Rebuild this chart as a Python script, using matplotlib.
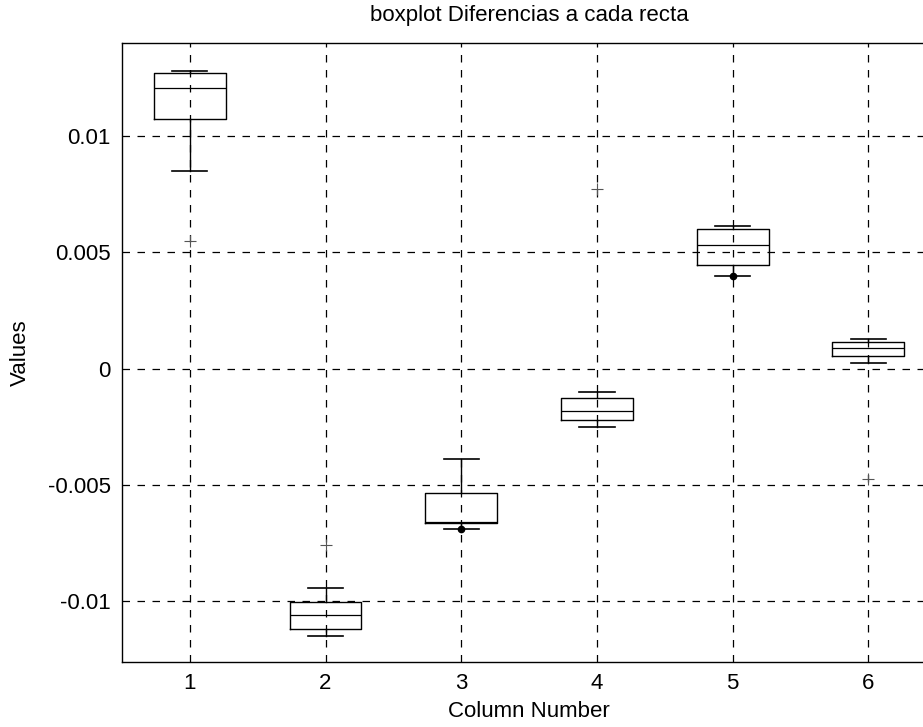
import matplotlib
matplotlib.use("Agg")
import matplotlib.pyplot as plt

plt.rcParams['font.family'] = ['Liberation Sans', 'DejaVu Sans']

columns = [1, 2, 3, 4, 5, 6]
whislo = [0.00849, -0.01147, -0.00690, -0.00250, 0.00397, 0.00026]
q1     = [0.01073, -0.01120, -0.00664, -0.00220, 0.00448, 0.00056]
med    = [0.01207, -0.01060, -0.00660, -0.00181, 0.00530, 0.00090]
q3     = [0.01270, -0.01004, -0.00534, -0.00125, 0.00600, 0.00116]
whishi = [0.01280, -0.00944, -0.00388, -0.00099, 0.00612, 0.00129]
outliers = [[0.00547], [-0.00759], [], [0.00772], [], [-0.00474]]
dot_cols = [3, 5]
dot_vals = [-0.00690, 0.00397]

yticks = [-0.01, -0.005, 0, 0.005, 0.01]
ytick_labels = ['-0.01', '-0.005', '0', '0.005', '0.01']

fig = plt.figure(figsize=(9.23, 7.27), dpi=100)
ax = fig.add_axes([0.1322, 0.0894, 0.882, 0.8515])

stats = []
for i in range(len(columns)):
    stats.append(dict(whislo=whislo[i], q1=q1[i], med=med[i], q3=q3[i],
                      whishi=whishi[i], fliers=outliers[i]))

ax.bxp(stats, positions=columns, widths=0.53,
       boxprops=dict(color='black', linewidth=1.0),
       medianprops=dict(color='black', linewidth=0.9),
       whiskerprops=dict(color='black', linewidth=1.0),
       capprops=dict(color='black', linewidth=1.2),
       flierprops=dict(marker='+', markeredgecolor='#555555', markersize=8,
                       markeredgewidth=0.8, linestyle='none'),
       capwidths=0.26)
ax.plot(dot_cols, dot_vals, 'o', color='black', markersize=4.5, linestyle='none')

ax.set_xlim(0.5, 6.5)
ax.set_ylim(-0.0126, 0.0140)
ax.set_xticks(columns)
ax.set_xticklabels([str(c) for c in columns])
ax.set_yticks(yticks)
ax.set_yticklabels(ytick_labels)
ax.grid(True, color='black', linestyle=(0, (6, 6)), linewidth=0.9)
ax.set_axisbelow(True)
ax.tick_params(axis='both', direction='in', length=0, labelsize=16, pad=8)
for s in ax.spines.values():
    s.set_linewidth(1.0)

ax.set_title('boxplot Diferencias a cada recta', fontsize=16, pad=16)
ax.set_xlabel('Column Number', fontsize=16, labelpad=5)
ax.set_ylabel('Values', fontsize=16, labelpad=12)

fig.savefig('out.png', dpi=100)
